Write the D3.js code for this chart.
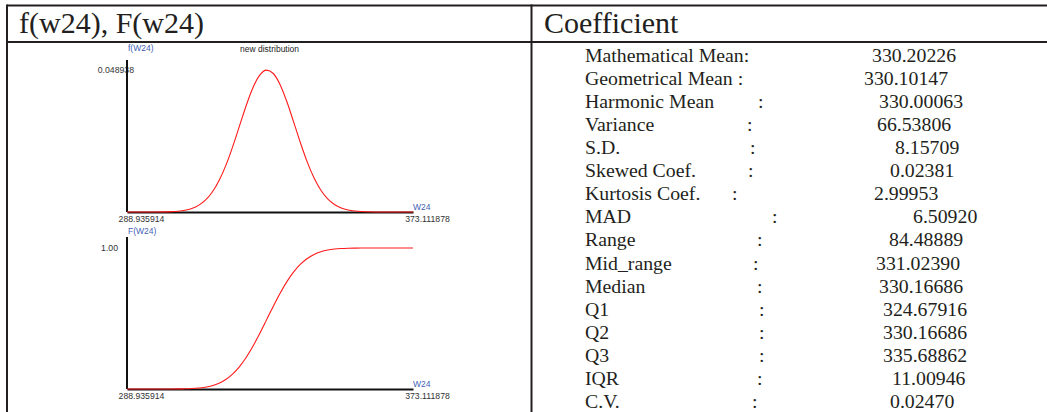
<!DOCTYPE html>
<html>
<head>
<meta charset="utf-8">
<script src="https://cdn.jsdelivr.net/npm/d3@7"></script>
<style>
  body { margin: 0; background: #fff; }
  svg { display: block; }
</style>
</head>
<body>
<div id="chart"></div>
<script>
// values -- w24 sample points, density and cumulative
const wX = [288.935914, 296, 300, 302, 304, 306, 308, 310, 312, 314, 316, 318, 320, 322, 324, 326, 328,
            330, 332, 334, 336, 338, 340, 342, 344, 346, 348, 350, 352, 354, 356, 358, 362, 366, 373.111878];
const pdfY = [0, 0.0000075, 0.000052, 0.000124, 0.000281, 0.000600, 0.001205, 0.002279, 0.004059, 0.006808,
              0.010750, 0.015978, 0.022375, 0.029506, 0.036636, 0.042832, 0.047160, 0.048892, 0.047728,
              0.043879, 0.037981, 0.030958, 0.023764, 0.017176, 0.011693, 0.007492, 0.004522, 0.002570,
              0.001376, 0.000693, 0.000329, 0.000147, 0.0000245, 0.000003, 0];
const cdfY = [0, 0.00001, 0.0001, 0.00027, 0.00066, 0.0015, 0.00325, 0.00664, 0.01284, 0.02352, 0.04084,
              0.06737, 0.10555, 0.15738, 0.22359, 0.30331, 0.39370, 0.49023, 0.58734, 0.67936, 0.76149,
              0.83052, 0.88520, 0.92599, 0.95466, 0.97363, 0.98545, 0.99240, 0.99624, 0.99824, 0.99922,
              0.99967, 0.99995, 1.0, 1.0];

const xTicks = [288.935914, 373.111878];
const pdfMax = 0.048938;
const cdfMax = 1.00;

// coefficient table
const coefNames = ["Mathematical Mean:", "Geometrical Mean :", "Harmonic Mean", "Variance", "S.D.",
                   "Skewed Coef.", "Kurtosis Coef.", "MAD", "Range", "Mid_range", "Median",
                   "Q1", "Q2", "Q3", "IQR", "C.V."];
const coefValues = ["330.20226", "330.10147", "330.00063", "66.53806", "8.15709", "0.02381", "2.99953",
                    "6.50920", "84.48889", "331.02390", "330.16686", "324.67916", "330.16686",
                    "335.68862", "11.00946", "0.02470"];

// layout for the table text (x of colon, x of value), null = colon already in label
const colonX = [null, null, 758, 747, 750, 748, 732, 772, 757, 753, 757, 759, 759, 759, 757, 752];
const valueX = [872, 864, 879, 877, 895, 890, 874, 913, 889, 876, 879, 883, 883, 883, 892, 890];

const W = 1047, H = 412;
const svg = d3.select("#chart").append("svg")
    .attr("width", W)
    .attr("height", H);

// table borders
const border = "#231f20";
svg.append("line").attr("x1", 7).attr("x2", W).attr("y1", 5.5).attr("y2", 5.5)
    .attr("stroke", border).attr("stroke-width", 2);
svg.append("line").attr("x1", 7).attr("x2", W).attr("y1", 42).attr("y2", 42)
    .attr("stroke", border).attr("stroke-width", 2);
svg.append("line").attr("x1", 7).attr("x2", 7).attr("y1", 4.5).attr("y2", H)
    .attr("stroke", border).attr("stroke-width", 2);
svg.append("line").attr("x1", 531.5).attr("x2", 531.5).attr("y1", 4.5).attr("y2", H)
    .attr("stroke", border).attr("stroke-width", 2);

const serif = "'Liberation Serif', 'Times New Roman', serif";
svg.append("text").attr("x", 19).attr("y", 33)
    .style("font-family", serif).style("font-size", "30px").attr("fill", "#231f20")
    .text("f(w24), F(w24)");
svg.append("text").attr("x", 544).attr("y", 33)
    .style("font-family", serif).style("font-size", "30px").attr("fill", "#231f20")
    .text("Coefficient");

// coefficient rows
const rowY = d3.scaleLinear().domain([0, coefNames.length - 1]).range([55, 401]);
coefNames.forEach((name, i) => {
    const g = svg.append("g").style("font-family", serif).style("font-size", "19.8px").attr("fill", "#231f20");
    g.append("text").attr("x", 585).attr("y", rowY(i)).attr("dy", "0.35em").text(name);
    if (colonX[i] !== null) {
        g.append("text").attr("x", colonX[i]).attr("y", rowY(i)).attr("dy", "0.35em").text(":");
    }
    g.append("text").attr("x", valueX[i]).attr("y", rowY(i)).attr("dy", "0.35em").text(coefValues[i]);
});

// the two small plots
const sans = "'Liberation Sans', Arial, sans-serif";
const blue = "#3f5fb5";

function drawPlot(cfg) {
    const x = d3.scaleLinear().domain(d3.extent(wX)).range([127, 413]);
    const y = d3.scaleLinear().domain([0, cfg.yMax]).range([cfg.bottom, cfg.topVal]);

    const g = svg.append("g");

    // x axis
    const xAx = g.append("g")
        .attr("transform", `translate(0, ${cfg.bottom})`)
        .call(d3.axisBottom(x).tickValues(xTicks).tickSize(0).tickSizeOuter(0).tickPadding(4)
            .tickFormat(d3.format(".6f")));
    xAx.select(".domain").attr("stroke", "#111").attr("stroke-width", 2);
    xAx.selectAll("text").attr("x", 14).style("font-family", sans).style("font-size", "8.7px").attr("fill", "#333");

    // y axis
    const yAx = g.append("g")
        .attr("transform", "translate(127, 0)")
        .call(d3.axisLeft(y).tickValues([cfg.yMax]).tickSize(0).tickSizeOuter(0).tickPadding(0)
            .tickFormat(cfg.fmt));
    yAx.select(".domain").remove();
    yAx.selectAll("text").attr("x", cfg.labelX).style("font-family", sans).style("font-size", "8.7px").attr("fill", "#333");
    g.append("line").attr("x1", 127).attr("x2", 127).attr("y1", cfg.axisTop).attr("y2", cfg.bottom)
        .attr("stroke", "#111").attr("stroke-width", 2);

    // curve
    g.append("path")
        .datum(wX.map((v, i) => [v, cfg.values[i]]))
        .attr("fill", "none")
        .attr("stroke", "#ff1a1a")
        .attr("stroke-width", 1.1)
        .attr("d", d3.line().x(d => x(d[0])).y(d => y(d[1])).curve(d3.curveMonotoneX));

    // axis names
    g.append("text").attr("x", 128).attr("y", cfg.nameY)
        .style("font-family", sans).style("font-size", "8.5px").attr("fill", blue).text(cfg.yName);
    g.append("text").attr("x", 413).attr("y", cfg.bottom - 2)
        .style("font-family", sans).style("font-size", "8.5px").attr("fill", blue).text("W24");
    if (cfg.title) {
        g.append("text").attr("x", 240).attr("y", cfg.nameY + 1)
            .style("font-family", sans).style("font-size", "8.5px").attr("fill", "#222").text(cfg.title);
    }
}

drawPlot({ values: pdfY, yMax: pdfMax, bottom: 212, topVal: 70, axisTop: 60, nameY: 51, yName: "f(W24)",
           title: "new distribution", fmt: d3.format(".6f"), labelX: 7 });
drawPlot({ values: cdfY, yMax: cdfMax, bottom: 389, topVal: 248, axisTop: 237, nameY: 234, yName: "F(W24)",
           title: null, fmt: d3.format(".2f"), labelX: -9 });
</script>
</body>
</html>
